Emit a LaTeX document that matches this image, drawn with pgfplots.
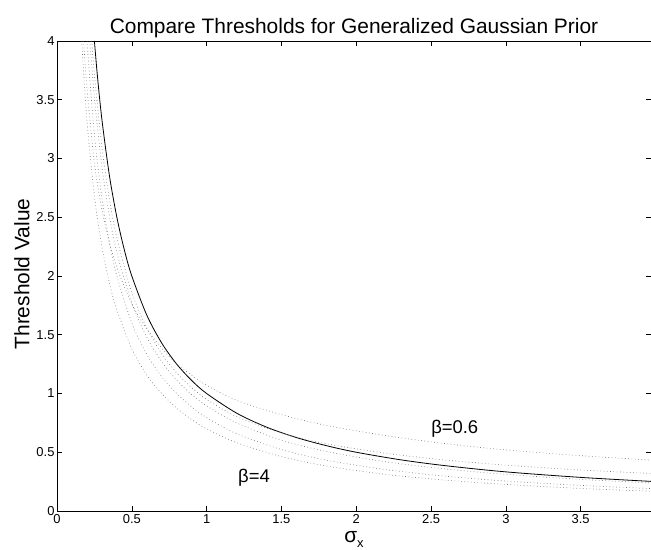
\documentclass[border=0pt]{standalone}
\usepackage{pgfplots}
\pgfplotsset{compat=1.18}
\usepackage{fontspec}
\setmainfont{Liberation Sans}
\begin{document}
\begin{tikzpicture}[x=1bp,y=1bp]
\path[use as bounding box] (0,0) rectangle (651,550);
\begin{axis}[
  at={(57bp,39bp)}, anchor=south west,
  width=594bp, height=470bp, scale only axis,
  xmin=0, xmax=3.97, ymin=0, ymax=4,
  xtick={0,0.5,1,1.5,2,2.5,3,3.5}, ytick={0,0.5,1,1.5,2,2.5,3,3.5,4},
  tick align=inside, major tick length=5bp,
  tick style={black, line width=0.5bp},
  axis line style={black, line width=0.6bp},
  ticklabel style={font=\fontsize{13}{15}\selectfont},
  yticklabel style={xshift=1bp},
  /pgf/number format/assume math mode=true,
  clip=true,
]
\addplot[black, line width=0.8bp, smooth] coordinates {
(0.25,4) (0.27,3.704) (0.3,3.333) (0.35,2.857) (0.4,2.5) (0.45,2.222) (0.5,2) (0.6,1.667) (0.7,1.429) (0.8,1.25) (0.9,1.111) (1,1) (1.2,0.833) (1.4,0.714) (1.6,0.625) (1.8,0.556) (2,0.5) (2.3,0.435) (2.6,0.385) (3,0.333) (3.5,0.286) (3.97,0.252)
};
% beta = 0.6
\addplot[black!55, line width=0.6bp, dash pattern=on 0.7bp off 2.6bp, smooth] coordinates {
(0.178,4.0) (0.2,3.6) (0.25,2.96) (0.3,2.567) (0.35,2.286) (0.4,2.075) (0.5,1.76) (0.6,1.55) (0.7,1.386) (0.8,1.25) (0.9,1.156) (1.0,1.07) (1.2,0.942) (1.5,0.82) (1.8,0.728) (2.2,0.641) (2.6,0.573) (3.0,0.52) (3.5,0.471) (3.97,0.433)
};
\addplot[black!55, line width=0.6bp, dash pattern=on 0.7bp off 2.6bp, smooth] coordinates {
(0.2325,4.0) (0.25,3.72) (0.3,3.1) (0.35,2.657) (0.4,2.325) (0.5,1.86) (0.6,1.558) (0.7,1.339) (0.8,1.175) (0.9,1.05) (1.0,0.95) (1.2,0.804) (1.5,0.663) (1.8,0.572) (2.2,0.491) (2.6,0.433) (3.0,0.39) (3.5,0.349) (3.97,0.32)
};
\addplot[black!55, line width=0.6bp, dash pattern=on 0.7bp off 2.6bp, smooth] coordinates {
(0.22,4.0) (0.25,3.52) (0.3,2.933) (0.35,2.514) (0.4,2.2) (0.5,1.77) (0.6,1.478) (0.7,1.271) (0.8,1.113) (0.9,0.991) (1.0,0.895) (1.2,0.75) (1.5,0.603) (1.8,0.507) (2.2,0.418) (2.6,0.357) (3.0,0.312) (3.5,0.269) (3.97,0.239)
};
\addplot[black!55, line width=0.6bp, dash pattern=on 0.7bp off 2.6bp, smooth] coordinates {
(0.2,4.0) (0.25,3.2) (0.3,2.667) (0.35,2.286) (0.4,2.0) (0.5,1.6) (0.6,1.333) (0.7,1.143) (0.8,1.0) (0.9,0.886) (1.0,0.795) (1.2,0.658) (1.5,0.523) (1.8,0.433) (2.2,0.352) (2.6,0.296) (3.0,0.255) (3.5,0.218) (3.97,0.191)
};
% beta = 4
\addplot[black!55, line width=0.6bp, dash pattern=on 0.7bp off 2.6bp, smooth] coordinates {
(0.165,4.0) (0.2,3.325) (0.25,2.68) (0.3,2.25) (0.35,1.943) (0.4,1.713) (0.5,1.38) (0.6,1.158) (0.7,1.0) (0.8,0.875) (0.9,0.778) (1.0,0.7) (1.2,0.582) (1.5,0.463) (1.8,0.383) (2.2,0.311) (2.6,0.262) (3.0,0.226) (3.5,0.192) (3.97,0.169)
};
\node[anchor=west, font=\fontsize{18.5}{20}\selectfont, inner sep=0pt] at (axis cs:2.5,0.70) {β=0.6};
\node[anchor=west, font=\fontsize{18.5}{20}\selectfont, inner sep=0pt] at (axis cs:1.21,0.28) {β=4};
\end{axis}
\node[font=\fontsize{21}{24}\selectfont, inner sep=0pt] at (354,522) {Compare Thresholds for Generalized Gaussian Prior};
\node[rotate=90, font=\fontsize{21}{24}\selectfont, inner sep=0pt] at (22,276) {Threshold Value};
\node[font=\fontsize{21}{24}\selectfont, inner sep=0pt, anchor=base] at (354,7.5) {σ\raisebox{-0.45ex}{\fontsize{13}{14}\selectfont x}};
\end{tikzpicture}
\end{document}
